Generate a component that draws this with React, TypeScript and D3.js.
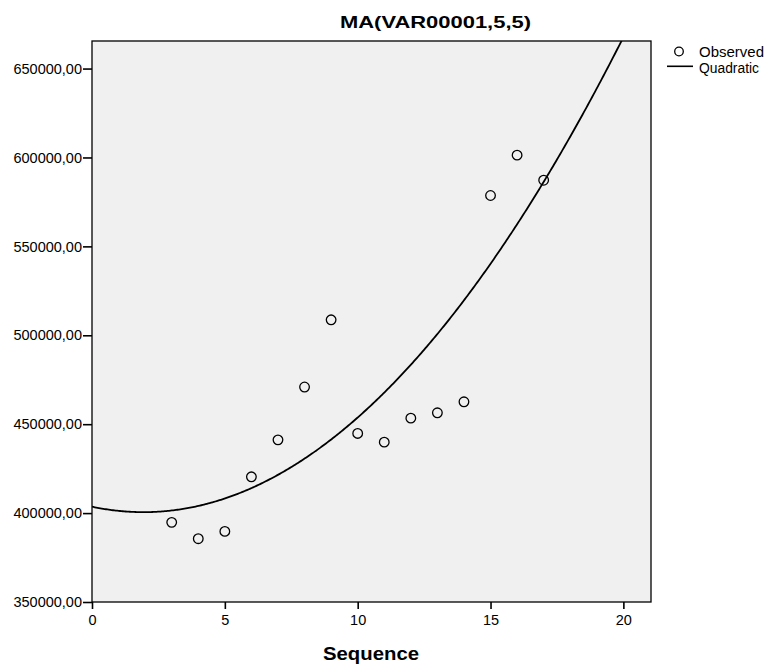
import * as d3 from "d3";
import React, { RefObject, useEffect, useRef } from "react";

const title = "MA(VAR00001,5,5)";
const xLabel = "Sequence";
const legendLabels = ["Observed", "Quadratic"];
const sequence = [3, 4, 5, 6, 7, 8, 9, 10, 11, 12, 13, 14, 15, 16, 17];
const observed = [
  394800, 385600, 389700, 420400, 441200, 470900, 508700, 444800, 439900,
  453400, 456400, 462600, 578600, 601300, 587200,
];
const xTicks = [0, 5, 10, 15, 20];
const yTicks = [350000, 400000, 450000, 500000, 550000, 600000, 650000];
const xDomain: [number, number] = [0, 21.04];
const yDomain: [number, number] = [350000, 665500];

// least squares quadratic y = a + b x + c x^2
const fitQuadratic = (xs: number[], ys: number[]) => {
  const s = [0, 0, 0, 0, 0];
  const t = [0, 0, 0];
  xs.forEach((x, i) => {
    for (let k = 0; k < 5; k++) s[k] += Math.pow(x, k);
    for (let k = 0; k < 3; k++) t[k] += Math.pow(x, k) * ys[i];
  });
  const m = [
    [s[0], s[1], s[2], t[0]],
    [s[1], s[2], s[3], t[1]],
    [s[2], s[3], s[4], t[2]],
  ];
  for (let i = 0; i < 3; i++) {
    for (let j = i + 1; j < 3; j++) {
      const f = m[j][i] / m[i][i];
      for (let k = i; k < 4; k++) m[j][k] -= f * m[i][k];
    }
  }
  const r = [0, 0, 0];
  for (let i = 2; i >= 0; i--) {
    let v = m[i][3];
    for (let k = i + 1; k < 3; k++) v -= m[i][k] * r[k];
    r[i] = v / m[i][i];
  }
  return r;
};

const App = () => {
  const d3Ref: RefObject<HTMLDivElement> = useRef(null);
  const width = 765;
  const height = 666;
  const left = 92;
  const right = 651;
  const top = 41;
  const bottom = 602;
  const font = "'Liberation Sans', Arial, sans-serif";

  const drawChart = () => {
    d3.select(d3Ref.current).selectAll("*").remove();
    const svg = d3
      .select(d3Ref.current)
      .append("svg")
      .attr("width", width)
      .attr("height", height)
      .style("position", "absolute")
      .style("left", "0px")
      .style("top", "0px")
      .style("background", "#fff");

    const xScale = d3.scaleLinear().domain(xDomain).range([left, right]);
    const yScale = d3.scaleLinear().domain(yDomain).range([bottom, top]);

    svg
      .append("rect")
      .attr("x", left)
      .attr("y", top)
      .attr("width", right - left)
      .attr("height", bottom - top)
      .attr("fill", "#f0f0f0");

    svg
      .append("clipPath")
      .attr("id", "plotClip")
      .append("rect")
      .attr("x", left)
      .attr("y", top)
      .attr("width", right - left)
      .attr("height", bottom - top);

    // fitted curve
    const [a, b, c] = fitQuadratic(sequence, observed);
    const xs = d3.range(0, 400).map((i) => xDomain[0] + (i / 399) * (xDomain[1] - xDomain[0]));
    svg
      .append("path")
      .datum(xs)
      .attr("clip-path", "url(#plotClip)")
      .attr("fill", "none")
      .attr("stroke", "#000")
      .attr("stroke-width", 1.8)
      .attr(
        "d",
        d3.line<number>(
          (d) => xScale(d),
          (d) => yScale(a + b * d + c * d * d)
        )
      );

    svg
      .append("g")
      .selectAll("circle")
      .data(observed)
      .enter()
      .append("circle")
      .attr("cx", (d, i) => xScale(sequence[i]))
      .attr("cy", (d) => yScale(d))
      .attr("r", 4.8)
      .attr("fill", "none")
      .attr("stroke", "#000")
      .attr("stroke-width", 1.3);

    // frame
    svg
      .append("rect")
      .attr("x", left)
      .attr("y", top)
      .attr("width", right - left)
      .attr("height", bottom - top)
      .attr("fill", "none")
      .attr("stroke", "#000")
      .attr("stroke-width", 1.3);

    const yAxis = svg
      .append("g")
      .attr("transform", `translate(${left}, 0)`)
      .call(
        d3
          .axisLeft(yScale)
          .tickValues(yTicks)
          .tickSize(9)
          .tickPadding(1)
          .tickFormat((d) => `${d},00`)
      );
    yAxis.select(".domain").remove();
    yAxis.selectAll("line").attr("stroke-width", 1.6);
    yAxis
      .selectAll("text")
      .attr("font-family", font)
      .attr("font-size", 14.5)
      .attr("fill", "#000");

    const xAxis = svg
      .append("g")
      .attr("transform", `translate(0, ${bottom})`)
      .call(
        d3
          .axisBottom(xScale)
          .tickValues(xTicks)
          .tickSize(7)
          .tickPadding(6)
          .tickFormat((d) => String(d))
      );
    xAxis.select(".domain").remove();
    xAxis.selectAll("line").attr("stroke-width", 1.6);
    xAxis
      .selectAll("text")
      .attr("font-family", font)
      .attr("font-size", 14.5)
      .attr("fill", "#000");

    svg
      .append("text")
      .attr("x", 340)
      .attr("y", 28)
      .attr("font-family", font)
      .attr("font-weight", "bold")
      .attr("font-size", 16.5)
      .attr("textLength", 191)
      .attr("lengthAdjust", "spacingAndGlyphs")
      .text(title);

    svg
      .append("text")
      .attr("x", 323)
      .attr("y", 660)
      .attr("font-family", font)
      .attr("font-weight", "bold")
      .attr("font-size", 19)
      .attr("textLength", 96)
      .attr("lengthAdjust", "spacingAndGlyphs")
      .text(xLabel);

    // legend
    const legend = svg.append("g");
    legend
      .append("circle")
      .attr("cx", 679)
      .attr("cy", 51.5)
      .attr("r", 4.3)
      .attr("fill", "none")
      .attr("stroke", "#000")
      .attr("stroke-width", 1.3);
    legend
      .append("line")
      .attr("x1", 667)
      .attr("x2", 693)
      .attr("y1", 66.3)
      .attr("y2", 66.3)
      .attr("stroke", "#000")
      .attr("stroke-width", 1.6);
    legend
      .selectAll("text")
      .data(legendLabels)
      .enter()
      .append("text")
      .attr("x", 699)
      .attr("y", (d, i) => 56.5 + i * 16)
      .attr("font-family", font)
      .attr("font-size", 14)
      .attr("textLength", (d, i) => (i === 0 ? 65 : 60))
      .attr("lengthAdjust", "spacingAndGlyphs")
      .attr("fill", "#000")
      .text((d) => d);
  };

  useEffect(() => {
    drawChart();
  }, [d3Ref]);

  return (
    <>
      <div ref={d3Ref} />
    </>
  );
};

export default App;
